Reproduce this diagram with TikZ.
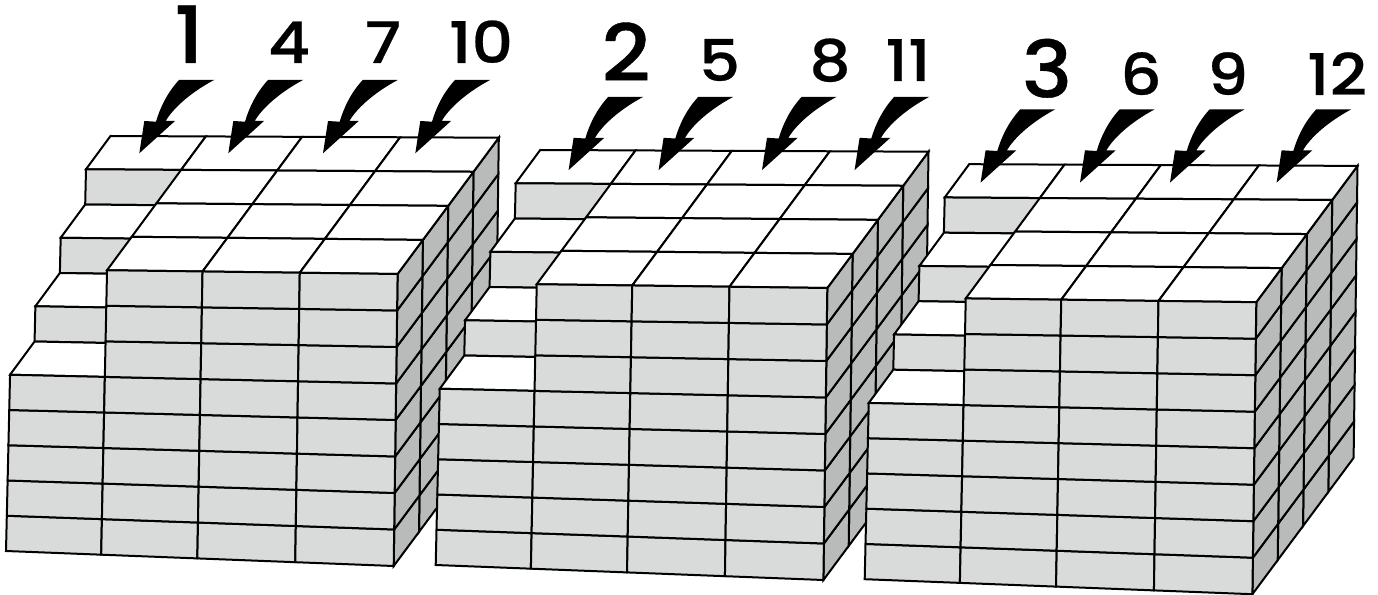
\documentclass[tikz,border=0pt]{standalone}
\usepackage{fontspec}
\newfontfamily\numfont[FakeStretch=1.13,FakeBold=0.4]{Poppins Medium}
\newfontfamily\bignumfont[FakeStretch=1.08,FakeBold=0.5]{Poppins Medium}
\definecolor{frontgray}{HTML}{D9DBDA}
\definecolor{sidegray}{HTML}{B9BBBA}
\def\colparam{{0,0.2455,0.4935,0.746,1}}
\tikzset{
  cell/.style={draw=black,line width=1.5pt,line join=miter},
  frontface/.style={cell,fill=frontgray},
  sideface/.style={cell,fill=sidegray},
  topface/.style={cell,fill=white},
  smallnum/.style={anchor=base,inner sep=0pt,font=\numfont\fontsize{43}{43}\selectfont},
  bignum/.style={anchor=base,inner sep=0pt,font=\bignumfont\fontsize{59}{59}\selectfont},
  curvedarrow/.pic={
    \fill[black] (0,0) .. controls (-12,13) and (-19,28) .. (-23,41.7)
      -- (-34.7,41) -- (-39.7,73.3) -- (-4,41) -- (-13.3,41)
      .. controls (-7,30) and (9,14) .. (35,0) -- cycle;
  }
}
% define the lattice of a block: P-i-r-h
\newcommand{\lattice}{%
  \foreach \i in {0,...,4}{\foreach \r in {0,...,4}{\foreach \h in {0,...,8}{%
    \pgfmathsetmacro{\uu}{\colparam[\i]}%
    \pgfmathsetmacro{\vv}{\r/4}%
    \pgfmathsetmacro{\ww}{\h/8}%
    \pgfmathsetmacro{\xx}{(1-\ww)*((1-\uu)*6+\uu*393.7)+\ww*((1-\uu)*12.5+\uu*397.6)+\vv*((1-\uu)*98+\uu*101.2)}%
    \pgfmathsetmacro{\yy}{(1-\ww)*((1-\uu)*551+\uu*566)+\ww*((1-\uu)*269+\uu*274)+\vv*((1-\uu)*(-133)+\uu*(-136.3))}%
    \coordinate (P-\i-\r-\h) at (\xx,\yy);%
  }}}%
}
% face helpers: front face at row r, col i, layer h; top face; side face
\newcommand{\frontcell}[3]{%
  \pgfmathtruncatemacro{\ia}{#1+1}\pgfmathtruncatemacro{\ha}{#3+1}%
  \draw[frontface] (P-#1-#2-#3) -- (P-\ia-#2-#3) -- (P-\ia-#2-\ha) -- (P-#1-#2-\ha) -- cycle;}
\newcommand{\topcell}[3]{%
  \pgfmathtruncatemacro{\ia}{#1+1}\pgfmathtruncatemacro{\ra}{#2+1}%
  \draw[topface] (P-#1-#2-#3) -- (P-\ia-#2-#3) -- (P-\ia-\ra-#3) -- (P-#1-\ra-#3) -- cycle;}
\newcommand{\sidecell}[2]{%
  \pgfmathtruncatemacro{\ra}{#1+1}\pgfmathtruncatemacro{\ha}{#2+1}%
  \draw[sideface] (P-4-#1-#2) -- (P-4-\ra-#2) -- (P-4-\ra-\ha) -- (P-4-#1-\ha) -- cycle;}
\newcommand{\block}[2]{%
  \begin{scope}[shift={(#1,#2)}]
    \lattice
    \foreach \r in {3,2,1,0}{\foreach \h in {0,...,7}{\sidecell{\r}{\h}}}
    % staircase in the first column, from back to front
    \topcell{0}{3}{8}
    \frontcell{0}{3}{7}
    \topcell{0}{2}{7}
    \frontcell{0}{2}{6}
    \topcell{0}{1}{6}
    \frontcell{0}{1}{5}
    \topcell{0}{0}{5}
    \foreach \h in {0,...,4}{\frontcell{0}{0}{\h}}
    % flat top of the other columns
    \foreach \c in {1,2,3}{\foreach \r in {3,2,1,0}{\topcell{\c}{\r}{8}}}
    \foreach \c in {1,2,3}{\foreach \h in {0,...,7}{\frontcell{\c}{0}{\h}}}
  \end{scope}}
\begin{document}
\begin{tikzpicture}[x=0.75pt,y=-0.75pt]
  \useasboundingbox (0,0) rectangle (1378,595);
  \block{0}{0}
  \block{429.7}{14}
  \block{858.7}{28.2}
  % arrows
  \foreach \ax in {179,268,362.7,455}{\pic at (\ax,80) {curvedarrow};}
  \foreach \ax in {608.3,698.3,801.7,894.3}{\pic at (\ax,96.8) {curvedarrow};}
  \foreach \ax in {1020.3,1119.7,1209.7,1316.3}{\pic at (\ax,109.3) {curvedarrow};}
  % numbers
  \node[bignum] (n1) at (189,63) {1};
  \node[smallnum] (n4) at (289,63) {4};
  \node[smallnum] (n7) at (383,63) {7};
  \node[smallnum] (n10) at (481,63) {10};
  \node[bignum] (n2) at (626,81) {2};
  \node[smallnum] (n5) at (719.5,81) {5};
  \node[smallnum] (n8) at (830,81) {8};
  \node[smallnum] (n11) at (908,81) {11};
  \node[bignum] (n3) at (1047,97.5) {3};
  \node[smallnum] (n6) at (1141,95) {6};
  \node[smallnum] (n9) at (1227.7,95) {9};
  \node[smallnum] (n12) at (1337,95) {12};
\end{tikzpicture}
\end{document}
